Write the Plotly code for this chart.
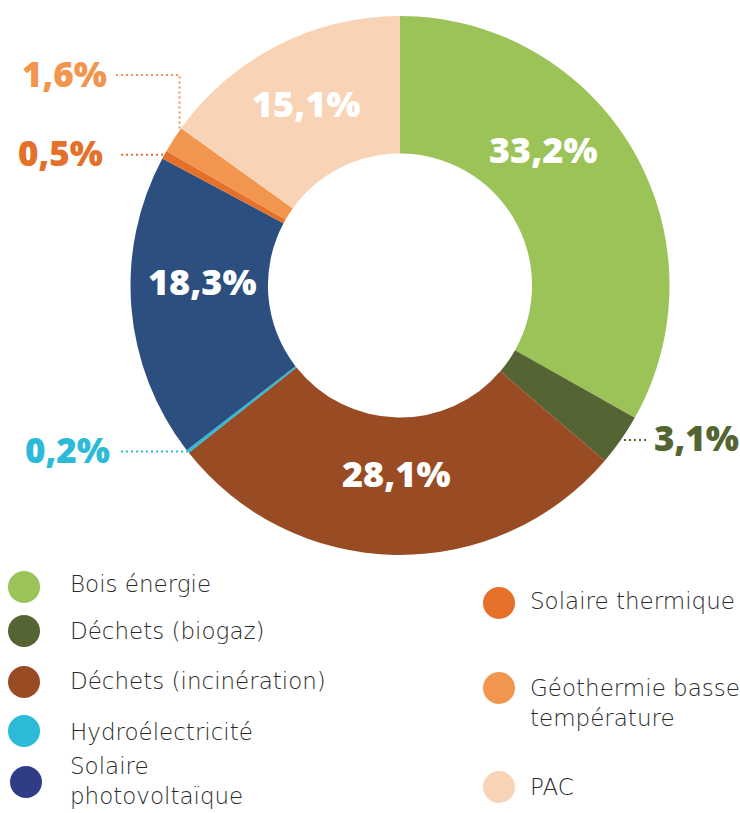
import math
import plotly.graph_objects as go

# ---------------- data ----------------
categories = [
    "Bois énergie",
    "Déchets (biogaz)",
    "Déchets (incinération)",
    "Hydroélectricité",
    "Solaire photovoltaïque",
    "Solaire thermique",
    "Géothermie basse température",
    "PAC",
]
values = [33.2, 3.1, 28.1, 0.2, 18.3, 0.5, 1.6, 15.1]
colors = ["#9BC358", "#546432", "#994C24", "#2BBAD8", "#2D4F7F",
          "#E5702A", "#F2964F", "#F8D3B5"]
legend_colors = ["#9BC358", "#546432", "#994C24", "#2BBAD8", "#303C85",
                 "#E5702A", "#F2964F", "#F8D3B5"]
legend_texts = ["Bois énergie", "Déchets (biogaz)", "Déchets (incinération)",
                "Hydroélectricité", "Solaire<br>photovoltaïque",
                "Solaire thermique", "Géothermie basse<br>température", "PAC"]

pct_labels = [f"{v:.1f}".replace(".", ",") + "%" for v in values]

# ---------------- geometry (pixels) ----------------
W, H = 740, 813
cx, cy, R = 400, 285.5, 269.5
HOLE = 0.49


def px(x):
    return x / W


def py(y):
    return 1 - y / H


PCT_FONT = "Open Sans"
LEG_FONT = "DejaVu Sans"

fig = go.Figure()
fig.add_trace(go.Pie(
    labels=categories,
    values=values,
    textinfo="none",
    marker=dict(colors=colors, line=dict(width=0)),
    hole=HOLE,
    sort=False,
    direction="clockwise",
    rotation=0,
    showlegend=False,
    hoverinfo="label+percent",
    domain=dict(x=[px(cx - R), px(cx + R)], y=[py(cy + R), py(cy - R)]),
))

total = sum(values)
starts = []
cum = 0.0
for v in values:
    starts.append(cum)
    cum += v


def slice_point(i, pos=0.5, r=R):
    th = 2 * math.pi * (starts[i] + values[i] * pos) / total
    return cx + r * math.sin(th), cy - r * math.cos(th)


shapes = []
annotations = []
dash = "2px,3px"

# labels inside the large slices: (position within slice, radius px)
inside = {0: (0.39, 198), 2: (0.5, 188), 4: (0.59, 198), 7: (0.5, 204)}
for i, (pos, rr) in inside.items():
    x, y = slice_point(i, pos, r=rr)
    annotations.append(dict(
        text=pct_labels[i], x=px(x), y=py(y), xref="paper", yref="paper",
        xanchor="center", yanchor="middle", showarrow=False,
        font=dict(family=PCT_FONT, size=36, color="white", weight=800),
    ))

# outside labels for small slices
outer = {
    1: dict(side="right", lx=652, line_end=646, pos=0.5),
    3: dict(side="left", lx=112, line_end=121, pos=0.5),
    5: dict(side="left", lx=105, line_end=121, pos=0.5),
    6: dict(side="left", lx=109, line_end=116, elbow_y=75, pos=0.9),
}
for i, o in outer.items():
    ex, ey = slice_point(i, o["pos"])
    col = colors[i]
    if "elbow_y" in o:
        yy = o["elbow_y"]
        path = f"M {px(o['line_end'])},{py(yy)} L {px(ex)},{py(yy)} L {px(ex)},{py(ey)}"
        shapes.append(dict(type="path", xref="paper", yref="paper", path=path,
                           line=dict(color=col, width=2, dash=dash)))
    else:
        yy = ey
        shapes.append(dict(type="line", xref="paper", yref="paper",
                           x0=px(o["line_end"]), x1=px(ex), y0=py(yy), y1=py(yy),
                           line=dict(color=col, width=2, dash=dash)))
    annotations.append(dict(
        text=pct_labels[i], x=px(o["lx"]), y=py(yy - 2), xref="paper", yref="paper",
        xanchor="left" if o["side"] == "right" else "right", yanchor="middle",
        showarrow=False,
        font=dict(family=PCT_FONT, size=35, color=col, weight=800),
    ))

# custom legend (two columns)
leg_pos = [
    (24, 587, 68, 584),
    (24, 631, 68, 631),
    (24, 682, 68, 681),
    (24, 731, 68, 732),
    (26, 782, 68, 781),
    (499, 603, 528, 601),
    (499, 688, 528, 703),
    (499, 787, 528, 787),
]
r_dot = 16
for (dx, dy, tx, ty), col, txt in zip(leg_pos, legend_colors, legend_texts):
    shapes.append(dict(type="circle", xref="paper", yref="paper",
                       x0=px(dx - r_dot), x1=px(dx + r_dot),
                       y0=py(dy + r_dot), y1=py(dy - r_dot),
                       fillcolor=col, line=dict(width=0)))
    annotations.append(dict(
        text=txt, x=px(tx), y=py(ty), xref="paper", yref="paper",
        xanchor="left", yanchor="middle", align="left", showarrow=False,
        font=dict(family=LEG_FONT, size=23, color="#2a2a2a", weight=200),
    ))

fig.update_layout(
    width=W, height=H,
    margin=dict(l=0, r=0, t=0, b=0),
    paper_bgcolor="white",
    plot_bgcolor="white",
    shapes=shapes,
    annotations=annotations,
)

fig.write_html("out.html", config={"displayModeBar": False},
               post_script="document.body.style.margin='0';document.body.style.overflow='hidden';")
